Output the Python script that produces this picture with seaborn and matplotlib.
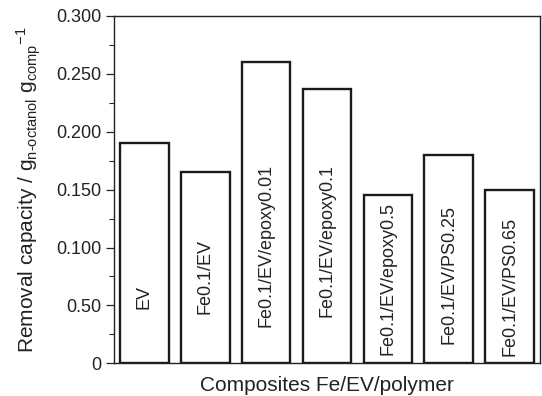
import matplotlib
matplotlib.use("Agg")
import matplotlib.pyplot as plt
import seaborn as sns
import pandas as pd
from matplotlib.ticker import MultipleLocator, FixedLocator

# Removal capacity of each composite (g n-octanol per g composite)
categories = ["EV", "Fe0.1/EV", "Fe0.1/EV/epoxy0.01", "Fe0.1/EV/epoxy0.1",
              "Fe0.1/EV/epoxy0.5", "Fe0.1/EV/PS0.25", "Fe0.1/EV/PS0.65"]
capacity = [0.190, 0.165, 0.260, 0.237, 0.145, 0.180, 0.150]

# y-axis ticks and their printed labels
ytick_values = [0, 0.05, 0.10, 0.15, 0.20, 0.25, 0.30]
ytick_labels = ["0", "0.50", "0.100", "0.150", "0.200", "0.250", "0.300"]

# vertical centre of each rotated label inside its bar (data units)
label_y = [0.0575, 0.075, 0.102, 0.106, 0.073, 0.077, 0.066]

sns.set_theme(style="ticks")
plt.rcParams["font.family"] = ["Liberation Sans", "DejaVu Sans"]
plt.rcParams["mathtext.fontset"] = "custom"
plt.rcParams["mathtext.rm"] = "Liberation Sans"
plt.rcParams["mathtext.it"] = "Liberation Sans:italic"

df = pd.DataFrame({"composite": categories, "capacity": capacity})

fig = plt.figure(figsize=(5.42, 3.96), dpi=100)
ax = fig.add_axes([114 / 542, 1 - 363.3 / 396, (540 - 114) / 542, (363.3 - 16) / 396])

sns.barplot(data=df, x="composite", y="capacity", color="white",
            edgecolor="#1a1a1a", linewidth=1.7, width=0.8, saturation=1, ax=ax)

for i, (name, yy) in enumerate(zip(categories, label_y)):
    ax.text(i, yy, name, rotation=90, ha="center", va="center",
            fontsize=13, color="#222222")

ax.set_xlim(-0.5, 6.5)
ax.set_ylim(0, 0.30)
ax.yaxis.set_major_locator(FixedLocator(ytick_values))
ax.set_yticklabels(ytick_labels)
ax.yaxis.set_minor_locator(MultipleLocator(0.025))
ax.tick_params(axis="y", which="major", length=6, width=0.9, pad=3,
               labelsize=13, colors="#222222", direction="out")
ax.tick_params(axis="y", which="minor", length=3.5, width=0.8, direction="out")
ax.tick_params(axis="x", which="both", length=0, labelbottom=False)

for s in ax.spines.values():
    s.set_visible(True)
    s.set_linewidth(1.0)
    s.set_color("#222222")

ax.set_xlabel("Composites Fe/EV/polymer", fontsize=15, color="#222222", va="top")
ax.xaxis.set_label_coords(0.5, -0.038)
ax.set_ylabel(r"Removal capacity / g$_{\mathregular{n\text{-}octanol}}$ g$_{\mathregular{comp}}$$^{\mathregular{-1}}$",
              fontsize=15, color="#222222")
ax.yaxis.set_label_coords(-0.166, 0.5)

fig.savefig("out.png", dpi=100)
